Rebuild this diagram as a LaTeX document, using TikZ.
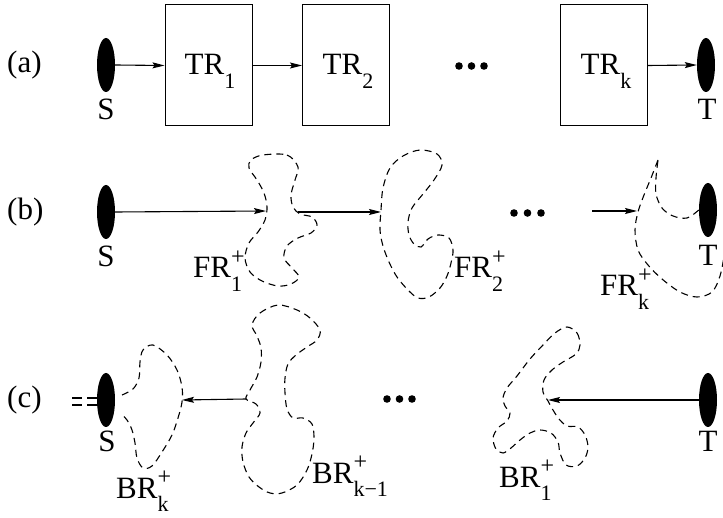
\documentclass[tikz,border=0pt]{standalone}
\usepackage{fontspec}
\setmainfont{Liberation Serif}
\usetikzlibrary{arrows.meta,shapes.geometric}
\newcommand{\rsub}[1]{\raisebox{-0.42em}{\fontsize{22}{22}\selectfont #1}}
\newcommand{\rsupsub}[2]{\rlap{\raisebox{0.42em}{\fontsize{24}{24}\selectfont #1}}\raisebox{-0.42em}{\fontsize{22}{22}\selectfont #2}}
\begin{document}
\begin{tikzpicture}[x=1pt,y=-1pt,
  every node/.style={font=\fontsize{31}{31}\selectfont, inner sep=0pt},
  term/.style={ellipse, fill=black, minimum width=18pt, minimum height=54pt},
  trbox/.style={draw, line width=1pt, minimum width=87pt, minimum height=121pt},
  conn/.style={line width=1.1pt, -{Stealth[length=12pt,width=6pt,inset=2pt]}},
  region/.style={line width=1.1pt, dash pattern=on 7pt off 5pt},
  lbl/.style={anchor=base west},
  clbl/.style={anchor=base},
  dotmark/.style={fill=black},
]
\useasboundingbox (0,0) rectangle (723,518);
\clip (0,0) rectangle (723,518);

% ---------------- row (a)
\node[lbl] (la) at (7,73) {(a)};
\node[term] (Sa) at (106,65) {};
\node[clbl] (Sal) at (106,120) {S};
\node[trbox] (tr1) at (208.5,65.5) {};
\node[trbox] (tr2) at (346,65.5) {};
\node[trbox] (trk) at (604,65.5) {};
\node[clbl] (tr1l) at (210,75) {TR\rsub{1}};
\node[clbl] (tr2l) at (348,75) {TR\rsub{2}};
\node[clbl] (trkl) at (606,75) {TR\rsub{k}};
\node[term] (Ta) at (706,65) {};
\node[clbl] (Tal) at (707,120) {T};
\draw[conn] (Sa.east) -- (tr1.west);
\draw[conn] (tr1.east) -- (tr2.west);
\draw[conn] (trk.east) -- (Ta.west);
\foreach \x in {459,471.5,484} \fill[dotmark] (\x,66) circle (3.8);

% ---------------- row (b)
\node[lbl] (lb) at (7,220) {(b)};
\node[term] (Sb) at (106,212) {};
\node[clbl] (Sbl) at (106,267) {S};
\node[term] (Tb) at (708,210) {};
\node[clbl] (Tbl) at (708,266) {T};
\foreach \x in {514,527.5,541} \fill[dotmark] (\x,213) circle (3.8);

% FR1 region
\draw[region] plot[smooth cycle, tension=0.55] coordinates {
 (263,155) (287,155) (298,167) (295,180) (291,195) (293,207) (300,214)
 (312,217) (317,225) (311,233) (298,238) (287,246) (284,258) (292,268)
 (299,277) (291,284) (278,286) (262,281) (250,272) (245,258) (249,243)
 (258,232) (265,220) (267,207) (264,193) (257,180) (249,168) (251,160)};
\coordinate (fr1in) at (266,211);
\coordinate (fr1out) at (298,212);
% FR2 region
\draw[region] plot[smooth cycle, tension=0.55] coordinates {
 (420,150) (437,154) (442,165) (434,180) (423,194) (412,208) (408,222)
 (409,235) (414,244) (421,247) (428,239) (438,235) (449,238) (453,250)
 (451,263) (447,276) (440,288) (429,297) (418,298) (408,290) (397,277)
 (389,262) (383,246) (380,230) (381,210) (383,188) (390,168) (403,156)};
\coordinate (fr2in) at (381,212);
% FRk region
\draw[region] plot[smooth, tension=0.55] coordinates {
 (Tb.west) (687,218) (673,216) (662,208) (656,194) (656,178) (658,160)};
\draw[region] plot[smooth, tension=0.55] coordinates {
 (658,160) (651,178) (644,195) (638,212) (635,230) (638,250) (648,265)
 (662,279) (680,292) (697,297) (712,292) (720,276) (724,255) (725,230)};
\coordinate (frkin) at (637,211);
\coordinate (frkstart) at (592,211);
\draw[conn] (Sb.east) -- (fr1in);
\draw[conn] (fr1out) -- (fr2in);
\draw[conn] (frkstart) -- (frkin);
\node[lbl] (fr1l) at (193,278) {FR\rsupsub{+}{1}};
\node[lbl] (fr2l) at (454,278) {FR\rsupsub{+}{2}};
\node[lbl] (frkl) at (600,296) {FR\rsupsub{+}{k}};

% ---------------- row (c)
\node[lbl] (lc) at (7,408) {(c)};
\node[term] (Sc) at (106,400) {};
\node[clbl] (Scl) at (107,452) {S};
\node[term] (Tc) at (708,400) {};
\node[clbl] (Tcl) at (708,452) {T};
\foreach \x in {387,399.5,412} \fill[dotmark] (\x,399) circle (3.8);

% BRk region
\draw[region, dash pattern=on 10pt off 5pt] (72,398) -- (Sc.west |- 0,398);
\draw[region, dash pattern=on 10pt off 5pt] (72,405) -- (Sc.west |- 0,405);
\draw[region] plot[smooth, tension=0.55] coordinates {
 (122,395) (133,389) (139,378) (140,362) (143,350) (153,345) (167,355)
 (177,370) (182,387) (182,402) (178,418) (172,435) (162,452) (152,466)
 (143,468) (137,458) (135,443) (132,430) (127,420) (121,414)};
\coordinate (brkin) at (182,400);
% BR k-1 region
\draw[region] plot[smooth cycle, tension=0.55] coordinates {
 (252,325) (260,313) (278,305) (297,310) (310,318) (320,330) (317,340)
 (307,347) (296,355) (288,364) (285,378) (285,393) (287,409) (293,418)
 (303,418) (312,424) (314,438) (312,454) (307,470) (297,485) (282,493)
 (270,493) (259,487) (249,477) (243,462) (242,447) (246,433) (253,423)
 (260,413) (256,404) (246,399) (250,390) (257,377) (261,362) (261,348)
 (257,336)};
\coordinate (brk1out) at (246,399);
% BR1 region
\draw[region] plot[smooth cycle, tension=0.55] coordinates {
 (567,327) (577,333) (580,345) (576,354) (563,362) (552,370) (544,380)
 (543,392) (548,401) (553,410) (559,419) (567,426) (578,427) (585,435)
 (588,447) (585,458) (577,466) (566,465) (560,453) (558,442) (551,433)
 (540,430) (530,433) (520,440) (511,448) (503,453) (496,449) (493,438)
 (498,428) (507,421) (510,413) (505,406) (503,398) (507,388) (517,376)
 (530,359) (543,345) (555,333)};
\coordinate (br1in) at (548,400);
\draw[conn] (brk1out) -- (brkin);
\draw[conn] (Tc.west) -- (br1in);
\node[lbl] (brkl) at (116,498) {BR\rsupsub{+}{k}};
\node[lbl] (brk1l) at (312,483) {BR\rsupsub{+}{k\textminus1}};
\node[lbl] (br1l) at (499,487) {BR\rsupsub{+}{1}};
\end{tikzpicture}
\end{document}
